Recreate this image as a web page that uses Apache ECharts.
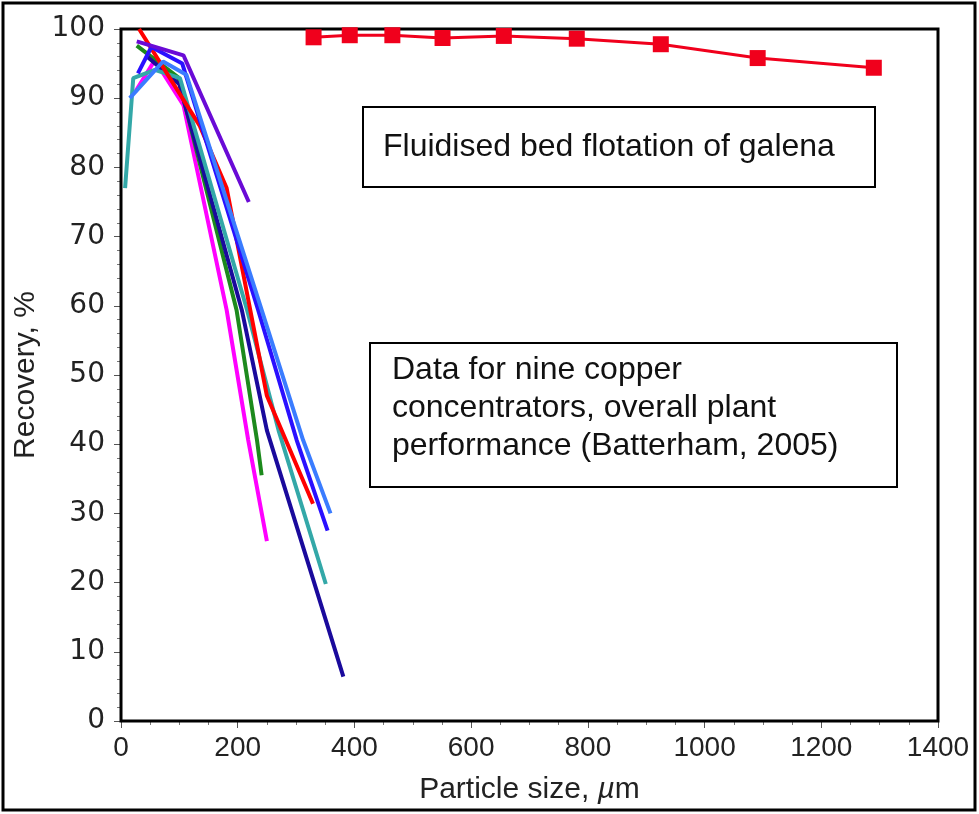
<!DOCTYPE html>
<html>
<head>
<meta charset="utf-8">
<script src="https://cdn.jsdelivr.net/npm/echarts@6/dist/echarts.min.js"></script>
<style>
html,body{margin:0;padding:0;background:#fff;}
#c{width:979px;height:814px;}
</style>
</head>
<body>
<div id="c"></div>
<script>
// ---- data ----
const xTicks = [0, 200, 400, 600, 800, 1000, 1200, 1400];
const yTicks = [0, 10, 20, 30, 40, 50, 60, 70, 80, 90, 100];

const galenaSize = [330, 392, 465, 551, 656, 781, 925, 1091, 1290];
const galenaRec  = [98.8, 99.1, 99.1, 98.7, 99.0, 98.6, 97.8, 95.8, 94.4];

const cuRed      = [[31,100],[135,86],[181,77],[250,47],[329,31.4]];
const cuMagenta  = [[25,91],[58,95.5],[107,89],[181,59.4],[218,40.6],[250,26]];
const cuGreen    = [[27,97.6],[98,93],[198,59.4],[233,40.6],[241,35.5]];
const cuPurple   = [[27,98.2],[107,96.2],[219,75]];
const cuBlue     = [[29,93.6],[52,97.4],[105,95],[235,59.4],[301,40.6],[354,27.5]];
const cuNavy     = [[45,96],[100,92],[207,59.4],[250,42],[381,6.4]];
const cuTeal     = [[7,77],[21,92.9],[58,94.1],[101,92.9],[216,59.4],[270,42],[351,19.8]];
const cuLightBlue= [[15,90],[72,95.3],[112,93.4],[241,59.4],[312,40.6],[359,30]];

const copper = [
  {name:'c1', data:cuMagenta, color:'#ff00ff'},
  {name:'c2', data:cuGreen, color:'#1c8a1c'},
  {name:'c3', data:cuNavy, color:'#1a0a9c'},
  {name:'c4', data:cuTeal, color:'#33a8a8'},
  {name:'c5', data:cuRed, color:'#ff0000'},
  {name:'c6', data:cuBlue, color:'#2a10ff'},
  {name:'c7', data:cuLightBlue, color:'#3a7cff'},
  {name:'c8', data:cuPurple, color:'#6a0ad6'}
];

const chart = echarts.init(document.getElementById('c'));
const series = copper.map(c => ({
  name: c.name, type: 'line', data: c.data, symbol: 'none',
  lineStyle: {color: c.color, width: 4}, z: 3
}));
series.push({
  name: 'galena', type: 'line',
  data: galenaSize.map((x, i) => [x, galenaRec[i]]),
  symbol: 'rect', symbolSize: 16,
  itemStyle: {color: '#f0001c'},
  lineStyle: {color: '#f0001c', width: 3}, z: 4
});

const boxFont = '32px "Liberation Sans"';

chart.setOption({
  animation: false,
  backgroundColor: '#fff',
  grid: {left: 121, right: 41, top: 29, bottom: 93, show: true, borderColor: '#000', borderWidth: 3, backgroundColor: '#fff', z: 2},
  xAxis: {
    type: 'value', min: xTicks[0], max: xTicks[xTicks.length-1], interval: 200,
    name: '{n|Particle size, }{i|µ}{n|m}', nameLocation: 'middle', nameGap: 54,
    nameTextStyle: {fontFamily: 'Liberation Sans', fontSize: 30, color: '#222',
      rich: {n: {fontFamily: 'Liberation Sans', fontSize: 30, color: '#222'},
             i: {fontFamily: 'Liberation Sans', fontSize: 30, color: '#222', fontStyle: 'italic'}}},
    axisLine: {show: false},
    axisTick: {show: true, length: 7, lineStyle: {color: '#555'}},
    minorTick: {show: true, splitNumber: 4, length: 4, lineStyle: {color: '#777'}},
    axisLabel: {fontFamily: 'Liberation Sans', fontSize: 28, color: '#222', margin: 13, formatter: v => String(v)},
    splitLine: {show: true, lineStyle: {color: '#444', width: 1}}
  },
  yAxis: {
    type: 'value', min: yTicks[0], max: yTicks[yTicks.length-1], interval: 10,
    name: 'Recovery, %', nameLocation: 'middle', nameGap: 72,
    nameTextStyle: {fontFamily: 'Liberation Sans', fontSize: 30, color: '#222'},
    axisLine: {show: false},
    axisTick: {show: true, length: 7, lineStyle: {color: '#555'}},
    minorTick: {show: true, splitNumber: 5, length: 4, lineStyle: {color: '#777'}},
    axisLabel: {fontFamily: 'DejaVu Sans', fontSize: 28, color: '#222', margin: 16, formatter: v => String(v)},
    splitLine: {show: true, lineStyle: {color: '#999', width: 2}}
  },
  series: series,
  graphic: [
    {type: 'rect', shape: {x: 3, y: 3, width: 972, height: 807}, style: {fill: 'none', stroke: '#000', lineWidth: 3}, z: 100, silent: true},
    {type: 'rect', shape: {x: 363, y: 107, width: 512, height: 80}, style: {fill: '#fff', stroke: '#000', lineWidth: 2}, z: 50},
    {type: 'text', x: 383, y: 147, style: {text: 'Fluidised bed flotation of galena', font: boxFont, fill: '#111', verticalAlign: 'middle'}, z: 51},
    {type: 'rect', shape: {x: 370, y: 343, width: 527, height: 144}, style: {fill: '#fff', stroke: '#000', lineWidth: 2}, z: 50},
    {type: 'text', x: 392, y: 370, style: {text: 'Data for nine copper', font: boxFont, fill: '#111', verticalAlign: 'middle'}, z: 51},
    {type: 'text', x: 392, y: 408, style: {text: 'concentrators, overall plant', font: boxFont, fill: '#111', verticalAlign: 'middle'}, z: 51},
    {type: 'text', x: 392, y: 446, style: {text: 'performance (Batterham, 2005)', font: boxFont, fill: '#111', verticalAlign: 'middle'}, z: 51}
  ]
});
</script>
</body>
</html>
